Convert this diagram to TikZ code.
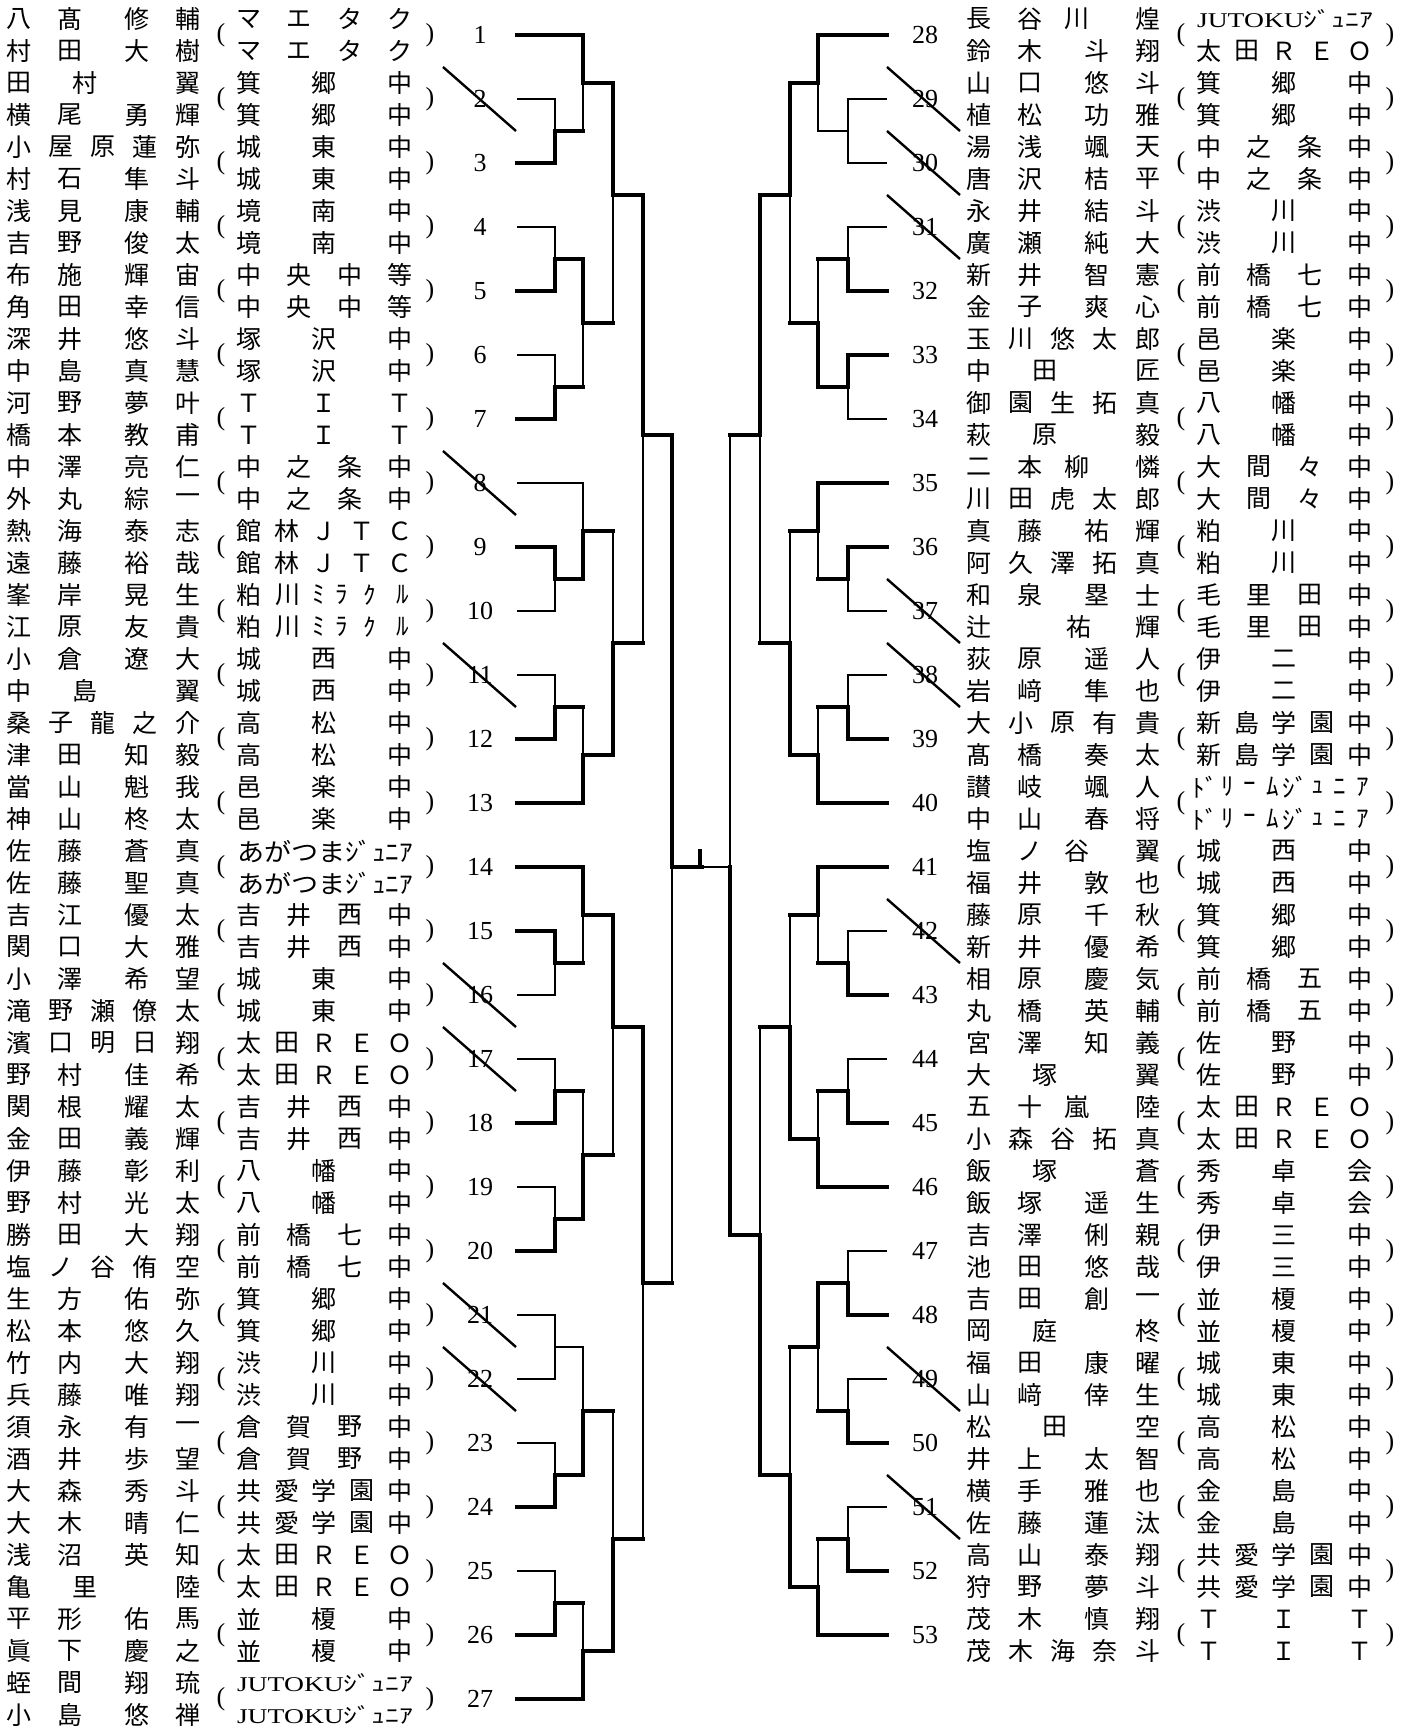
\documentclass[tikz,border=0pt]{standalone}
\usepackage{fontspec}
\usepackage{graphicx}
\newfontfamily\jp{Noto Sans CJK JP}
\newfontfamily\ser{Liberation Serif}
\tikzset{
 nm/.style={font=\jp\fontsize{25}{25}\selectfont, inner sep=0pt},
 num/.style={font=\ser\fontsize{26}{26}\selectfont, inner sep=0pt},
 pr/.style={font=\ser\fontsize{26}{26}\selectfont, inner sep=0pt},
 lose/.style={line width=1.5pt},
 win/.style={line width=4.5pt, line cap=rect, line join=miter},
 slash/.style={line width=2.4pt},
}
% names: x0, y, chars
\newcommand\nmA[6]{\node[nm] at ({#1+19},#2){#3};\node[nm] at ({#1+70},#2){#4};\node[nm] at ({#1+137},#2){#5};\node[nm] at ({#1+188},#2){#6};}
\newcommand\nmB[6]{\node[nm] at ({#1+19},#2){#3};\node[nm] at ({#1+70},#2){#4};\node[nm] at ({#1+117},#2){#5};\node[nm] at ({#1+188},#2){#6};}
\newcommand\nmC[5]{\node[nm] at ({#1+19},#2){#3};\node[nm] at ({#1+85},#2){#4};\node[nm] at ({#1+188},#2){#5};}
\newcommand\nmD[5]{\node[nm] at ({#1+19},#2){#3};\node[nm] at ({#1+119},#2){#4};\node[nm] at ({#1+188},#2){#5};}
\newcommand\nmF[5]{\node[nm] at ({#1+19},#2){#3};\node[nm] at ({#1+95},#2){#4};\node[nm] at ({#1+188},#2){#5};}
\newcommand\nmE[7]{\node[nm] at ({#1+19},#2){#3};\node[nm] at ({#1+61},#2){#4};\node[nm] at ({#1+103},#2){#5};\node[nm] at ({#1+145},#2){#6};\node[nm] at ({#1+188},#2){#7};}
% schools
\newcommand\scA[5]{\node[nm] at ({#1+249},#2){#3};\node[nm] at ({#1+324},#2){#4};\node[nm] at ({#1+400},#2){#5};}
\newcommand\scB[6]{\node[nm] at ({#1+249},#2){#3};\node[nm] at ({#1+299},#2){#4};\node[nm] at ({#1+350},#2){#5};\node[nm] at ({#1+400},#2){#6};}
\newcommand\scC[7]{\node[nm] at ({#1+249},#2){#3};\node[nm] at ({#1+287},#2){#4};\node[nm] at ({#1+324},#2){#5};\node[nm] at ({#1+362},#2){#6};\node[nm] at ({#1+400},#2){#7};}
\newcommand\scX[3]{\node[nm] at ({#1+325},#2){\resizebox{176pt}{\height}{#3}};}
\newcommand\jut{\fontsize{21}{21}\selectfont{\ser JUTOKU}ｼﾞｭﾆｱ}
\newcommand\aga{あがつまｼﾞｭﾆｱ}
\newcommand\kasu[2]{\node[nm] at ({#1+249},#2){粕};\node[nm] at ({#1+288},#2){川};\node[nm] at ({#1+319},#2){ﾐ};\node[nm] at ({#1+342},#2){ﾗ};\node[nm] at ({#1+370},#2){ｸ};\node[nm] at ({#1+403},#2){ﾙ};}
\newcommand\dream[2]{\node[nm] at ({#1+245},#2){ﾄﾞ};\node[nm] at ({#1+268},#2){ﾘ};\node[nm] at ({#1+290},#2){ｰ};\node[nm] at ({#1+313},#2){ﾑ};\node[nm] at ({#1+335},#2){ｼﾞ};\node[nm] at ({#1+358},#2){ｭ};\node[nm] at ({#1+380},#2){ﾆ};\node[nm] at ({#1+403},#2){ｱ};}
\newcommand\prn[2]{\node[pr] at ({#1+221},#2){(};\node[pr] at ({#1+430},#2){)};}
\begin{document}
\begin{tikzpicture}[x=1pt,y=-1pt]
\useasboundingbox (0,0) rectangle (1411,1733);
% ---------- numbers ----------
\foreach \k in {1,...,27} \node[num] (n\k) at (480,{35+64*(\k-1)}) {\k};
\foreach \k in {28,...,53} \node[num] (n\k) at (925,{35+64*(\k-28)}) {\k};
% ---------- left names ----------
\nmA{0}{19}{八}{髙}{修}{輔}\nmA{0}{51}{村}{田}{大}{樹}\scB{0}{19}{マ}{エ}{タ}{ク}\scB{0}{51}{マ}{エ}{タ}{ク}\prn{0}{35}
\nmC{0}{83}{田}{村}{翼}\nmA{0}{115}{横}{尾}{勇}{輝}\scA{0}{83}{箕}{郷}{中}\scA{0}{115}{箕}{郷}{中}\prn{0}{99}
\nmE{0}{147}{小}{屋}{原}{蓮}{弥}\nmA{0}{179}{村}{石}{隼}{斗}\scA{0}{147}{城}{東}{中}\scA{0}{179}{城}{東}{中}\prn{0}{163}
\nmA{0}{211}{浅}{見}{康}{輔}\nmA{0}{243}{吉}{野}{俊}{太}\scA{0}{211}{境}{南}{中}\scA{0}{243}{境}{南}{中}\prn{0}{227}
\nmA{0}{275}{布}{施}{輝}{宙}\nmA{0}{307}{角}{田}{幸}{信}\scB{0}{275}{中}{央}{中}{等}\scB{0}{307}{中}{央}{中}{等}\prn{0}{291}
\nmA{0}{339}{深}{井}{悠}{斗}\nmA{0}{371}{中}{島}{真}{慧}\scA{0}{339}{塚}{沢}{中}\scA{0}{371}{塚}{沢}{中}\prn{0}{355}
\nmA{0}{403}{河}{野}{夢}{叶}\nmA{0}{435}{橋}{本}{教}{甫}\scA{0}{403}{Ｔ}{Ｉ}{Ｔ}\scA{0}{435}{Ｔ}{Ｉ}{Ｔ}\prn{0}{419}
\nmA{0}{467}{中}{澤}{亮}{仁}\nmA{0}{499}{外}{丸}{綜}{一}\scB{0}{467}{中}{之}{条}{中}\scB{0}{499}{中}{之}{条}{中}\prn{0}{483}
\nmA{0}{531}{熱}{海}{泰}{志}\nmA{0}{563}{遠}{藤}{裕}{哉}\scC{0}{531}{館}{林}{Ｊ}{Ｔ}{Ｃ}\scC{0}{563}{館}{林}{Ｊ}{Ｔ}{Ｃ}\prn{0}{547}
\nmA{0}{595}{峯}{岸}{晃}{生}\nmA{0}{627}{江}{原}{友}{貴}\kasu{0}{595}\kasu{0}{627}\prn{0}{611}
\nmA{0}{659}{小}{倉}{遼}{大}\nmC{0}{691}{中}{島}{翼}\scA{0}{659}{城}{西}{中}\scA{0}{691}{城}{西}{中}\prn{0}{675}
\nmE{0}{723}{桑}{子}{龍}{之}{介}\nmA{0}{755}{津}{田}{知}{毅}\scA{0}{723}{高}{松}{中}\scA{0}{755}{高}{松}{中}\prn{0}{739}
\nmA{0}{787}{當}{山}{魁}{我}\nmA{0}{819}{神}{山}{柊}{太}\scA{0}{787}{邑}{楽}{中}\scA{0}{819}{邑}{楽}{中}\prn{0}{803}
\nmA{0}{851}{佐}{藤}{蒼}{真}\nmA{0}{883}{佐}{藤}{聖}{真}\scX{0}{851}{\aga}\scX{0}{883}{\aga}\prn{0}{867}
\nmA{0}{915}{吉}{江}{優}{太}\nmA{0}{947}{関}{口}{大}{雅}\scB{0}{915}{吉}{井}{西}{中}\scB{0}{947}{吉}{井}{西}{中}\prn{0}{931}
\nmA{0}{979}{小}{澤}{希}{望}\nmE{0}{1011}{滝}{野}{瀬}{僚}{太}\scA{0}{979}{城}{東}{中}\scA{0}{1011}{城}{東}{中}\prn{0}{995}
\nmE{0}{1043}{濱}{口}{明}{日}{翔}\nmA{0}{1075}{野}{村}{佳}{希}\scC{0}{1043}{太}{田}{Ｒ}{Ｅ}{Ｏ}\scC{0}{1075}{太}{田}{Ｒ}{Ｅ}{Ｏ}\prn{0}{1059}
\nmA{0}{1107}{関}{根}{耀}{太}\nmA{0}{1139}{金}{田}{義}{輝}\scB{0}{1107}{吉}{井}{西}{中}\scB{0}{1139}{吉}{井}{西}{中}\prn{0}{1123}
\nmA{0}{1171}{伊}{藤}{彰}{利}\nmA{0}{1203}{野}{村}{光}{太}\scA{0}{1171}{八}{幡}{中}\scA{0}{1203}{八}{幡}{中}\prn{0}{1187}
\nmA{0}{1235}{勝}{田}{大}{翔}\nmE{0}{1267}{塩}{ノ}{谷}{侑}{空}\scB{0}{1235}{前}{橋}{七}{中}\scB{0}{1267}{前}{橋}{七}{中}\prn{0}{1251}
\nmA{0}{1299}{生}{方}{佑}{弥}\nmA{0}{1331}{松}{本}{悠}{久}\scA{0}{1299}{箕}{郷}{中}\scA{0}{1331}{箕}{郷}{中}\prn{0}{1315}
\nmA{0}{1363}{竹}{内}{大}{翔}\nmA{0}{1395}{兵}{藤}{唯}{翔}\scA{0}{1363}{渋}{川}{中}\scA{0}{1395}{渋}{川}{中}\prn{0}{1379}
\nmA{0}{1427}{須}{永}{有}{一}\nmA{0}{1459}{酒}{井}{歩}{望}\scB{0}{1427}{倉}{賀}{野}{中}\scB{0}{1459}{倉}{賀}{野}{中}\prn{0}{1443}
\nmA{0}{1491}{大}{森}{秀}{斗}\nmA{0}{1523}{大}{木}{晴}{仁}\scC{0}{1491}{共}{愛}{学}{園}{中}\scC{0}{1523}{共}{愛}{学}{園}{中}\prn{0}{1507}
\nmA{0}{1555}{浅}{沼}{英}{知}\nmC{0}{1587}{亀}{里}{陸}\scC{0}{1555}{太}{田}{Ｒ}{Ｅ}{Ｏ}\scC{0}{1587}{太}{田}{Ｒ}{Ｅ}{Ｏ}\prn{0}{1571}
\nmA{0}{1619}{平}{形}{佑}{馬}\nmA{0}{1651}{眞}{下}{慶}{之}\scA{0}{1619}{並}{榎}{中}\scA{0}{1651}{並}{榎}{中}\prn{0}{1635}
\nmA{0}{1683}{蛭}{間}{翔}{琉}\nmA{0}{1715}{小}{島}{悠}{禅}\scX{0}{1683}{\jut}\scX{0}{1715}{\jut}\prn{0}{1699}
% ---------- right names ----------
\nmB{960}{19}{長}{谷}{川}{煌}\nmA{960}{51}{鈴}{木}{斗}{翔}\scX{960}{19}{\jut}\scC{960}{51}{太}{田}{Ｒ}{Ｅ}{Ｏ}\prn{960}{35}
\nmA{960}{83}{山}{口}{悠}{斗}\nmA{960}{115}{植}{松}{功}{雅}\scA{960}{83}{箕}{郷}{中}\scA{960}{115}{箕}{郷}{中}\prn{960}{99}
\nmA{960}{147}{湯}{浅}{颯}{天}\nmA{960}{179}{唐}{沢}{桔}{平}\scB{960}{147}{中}{之}{条}{中}\scB{960}{179}{中}{之}{条}{中}\prn{960}{163}
\nmA{960}{211}{永}{井}{結}{斗}\nmA{960}{243}{廣}{瀬}{純}{大}\scA{960}{211}{渋}{川}{中}\scA{960}{243}{渋}{川}{中}\prn{960}{227}
\nmA{960}{275}{新}{井}{智}{憲}\nmA{960}{307}{金}{子}{爽}{心}\scB{960}{275}{前}{橋}{七}{中}\scB{960}{307}{前}{橋}{七}{中}\prn{960}{291}
\nmE{960}{339}{玉}{川}{悠}{太}{郎}\nmC{960}{371}{中}{田}{匠}\scA{960}{339}{邑}{楽}{中}\scA{960}{371}{邑}{楽}{中}\prn{960}{355}
\nmE{960}{403}{御}{園}{生}{拓}{真}\nmC{960}{435}{萩}{原}{毅}\scA{960}{403}{八}{幡}{中}\scA{960}{435}{八}{幡}{中}\prn{960}{419}
\nmB{960}{467}{二}{本}{柳}{憐}\nmE{960}{499}{川}{田}{虎}{太}{郎}\scB{960}{467}{大}{間}{々}{中}\scB{960}{499}{大}{間}{々}{中}\prn{960}{483}
\nmA{960}{531}{真}{藤}{祐}{輝}\nmE{960}{563}{阿}{久}{澤}{拓}{真}\scA{960}{531}{粕}{川}{中}\scA{960}{563}{粕}{川}{中}\prn{960}{547}
\nmA{960}{595}{和}{泉}{塁}{士}\nmD{960}{627}{辻}{祐}{輝}\scB{960}{595}{毛}{里}{田}{中}\scB{960}{627}{毛}{里}{田}{中}\prn{960}{611}
\nmA{960}{659}{荻}{原}{遥}{人}\nmA{960}{691}{岩}{﨑}{隼}{也}\scA{960}{659}{伊}{二}{中}\scA{960}{691}{伊}{二}{中}\prn{960}{675}
\nmE{960}{723}{大}{小}{原}{有}{貴}\nmA{960}{755}{髙}{橋}{奏}{太}\scC{960}{723}{新}{島}{学}{園}{中}\scC{960}{755}{新}{島}{学}{園}{中}\prn{960}{739}
\nmA{960}{787}{讃}{岐}{颯}{人}\nmA{960}{819}{中}{山}{春}{将}\dream{960}{787}\dream{960}{819}\prn{960}{803}
\nmB{960}{851}{塩}{ノ}{谷}{翼}\nmA{960}{883}{福}{井}{敦}{也}\scA{960}{851}{城}{西}{中}\scA{960}{883}{城}{西}{中}\prn{960}{867}
\nmA{960}{915}{藤}{原}{千}{秋}\nmA{960}{947}{新}{井}{優}{希}\scA{960}{915}{箕}{郷}{中}\scA{960}{947}{箕}{郷}{中}\prn{960}{931}
\nmA{960}{979}{相}{原}{慶}{気}\nmA{960}{1011}{丸}{橋}{英}{輔}\scB{960}{979}{前}{橋}{五}{中}\scB{960}{1011}{前}{橋}{五}{中}\prn{960}{995}
\nmA{960}{1043}{宮}{澤}{知}{義}\nmC{960}{1075}{大}{塚}{翼}\scA{960}{1043}{佐}{野}{中}\scA{960}{1075}{佐}{野}{中}\prn{960}{1059}
\nmB{960}{1107}{五}{十}{嵐}{陸}\nmE{960}{1139}{小}{森}{谷}{拓}{真}\scC{960}{1107}{太}{田}{Ｒ}{Ｅ}{Ｏ}\scC{960}{1139}{太}{田}{Ｒ}{Ｅ}{Ｏ}\prn{960}{1123}
\nmC{960}{1171}{飯}{塚}{蒼}\nmA{960}{1203}{飯}{塚}{遥}{生}\scA{960}{1171}{秀}{卓}{会}\scA{960}{1203}{秀}{卓}{会}\prn{960}{1187}
\nmA{960}{1235}{吉}{澤}{俐}{親}\nmA{960}{1267}{池}{田}{悠}{哉}\scA{960}{1235}{伊}{三}{中}\scA{960}{1267}{伊}{三}{中}\prn{960}{1251}
\nmA{960}{1299}{吉}{田}{創}{一}\nmC{960}{1331}{岡}{庭}{柊}\scA{960}{1299}{並}{榎}{中}\scA{960}{1331}{並}{榎}{中}\prn{960}{1315}
\nmA{960}{1363}{福}{田}{康}{曜}\nmA{960}{1395}{山}{﨑}{倖}{生}\scA{960}{1363}{城}{東}{中}\scA{960}{1395}{城}{東}{中}\prn{960}{1379}
\nmF{960}{1427}{松}{田}{空}\nmA{960}{1459}{井}{上}{太}{智}\scA{960}{1427}{高}{松}{中}\scA{960}{1459}{高}{松}{中}\prn{960}{1443}
\nmA{960}{1491}{横}{手}{雅}{也}\nmA{960}{1523}{佐}{藤}{蓮}{汰}\scA{960}{1491}{金}{島}{中}\scA{960}{1523}{金}{島}{中}\prn{960}{1507}
\nmA{960}{1555}{高}{山}{泰}{翔}\nmA{960}{1587}{狩}{野}{夢}{斗}\scC{960}{1555}{共}{愛}{学}{園}{中}\scC{960}{1587}{共}{愛}{学}{園}{中}\prn{960}{1571}
\nmA{960}{1619}{茂}{木}{慎}{翔}\nmE{960}{1651}{茂}{木}{海}{奈}{斗}\scA{960}{1619}{Ｔ}{Ｉ}{Ｔ}\scA{960}{1651}{Ｔ}{Ｉ}{Ｔ}\prn{960}{1635}
% ---------- left bracket: losers ----------
\draw[lose] (517,99)--(555,99)--(555,131);
\draw[lose] (583,131)--(583,83);
\draw[lose] (517,227)--(555,227)--(555,259);
\draw[lose] (517,355)--(555,355)--(555,387);
\draw[lose] (583,387)--(583,323);
\draw[lose] (613,195)--(613,323);
\draw[lose] (517,483)--(583,483)--(583,531);
\draw[lose] (517,611)--(555,611)--(555,579);
\draw[lose] (613,531)--(613,643);
\draw[lose] (517,675)--(555,675)--(555,707);
\draw[lose] (583,707)--(583,755);
\draw[lose] (643,643)--(643,435);
\draw[lose] (517,995)--(555,995)--(555,963);
\draw[lose] (583,963)--(583,915);
\draw[lose] (517,1059)--(555,1059)--(555,1091);
\draw[lose] (583,1091)--(583,1155);
\draw[lose] (517,1187)--(555,1187)--(555,1219);
\draw[lose] (613,1155)--(613,1027);
\draw[lose] (672,1283)--(672,867);
\draw[lose] (517,1315)--(555,1315)--(555,1347)--(583,1347)--(583,1411);
\draw[lose] (517,1379)--(555,1379)--(555,1347);
\draw[lose] (517,1443)--(555,1443)--(555,1475);
\draw[lose] (613,1411)--(613,1539);
\draw[lose] (517,1571)--(555,1571)--(555,1603);
\draw[lose] (583,1603)--(583,1651);
\draw[lose] (643,1539)--(643,1283);
\draw[lose] (702,867)--(730,867);
% ---------- left bracket: winners ----------
\draw[win] (517,35)--(583,35)--(583,83)--(613,83)--(613,195)--(643,195)--(643,435)--(672,435)--(672,867)--(702,867);
\draw[win] (700,851)--(700,867);
\draw[win] (517,163)--(555,163)--(555,131)--(583,131);
\draw[win] (517,291)--(555,291)--(555,259)--(583,259)--(583,323)--(613,323);
\draw[win] (517,419)--(555,419)--(555,387)--(583,387);
\draw[win] (517,547)--(555,547)--(555,579)--(583,579)--(583,531)--(613,531);
\draw[win] (517,739)--(555,739)--(555,707)--(583,707);
\draw[win] (517,803)--(583,803)--(583,755)--(613,755)--(613,643)--(643,643);
\draw[win] (517,867)--(583,867)--(583,915)--(613,915)--(613,1027)--(643,1027)--(643,1283)--(672,1283);
\draw[win] (517,931)--(555,931)--(555,963)--(583,963);
\draw[win] (517,1123)--(555,1123)--(555,1091)--(583,1091);
\draw[win] (517,1251)--(555,1251)--(555,1219)--(583,1219)--(583,1155)--(613,1155);
\draw[win] (517,1507)--(555,1507)--(555,1475)--(583,1475)--(583,1411)--(613,1411);
\draw[win] (517,1635)--(555,1635)--(555,1603)--(583,1603);
\draw[win] (517,1699)--(583,1699)--(583,1651)--(613,1651)--(613,1539)--(643,1539);
% ---------- right bracket: losers ----------
\draw[lose] (887,99)--(848,99)--(848,163)--(887,163);
\draw[lose] (848,131)--(818,131)--(818,83);
\draw[lose] (887,227)--(848,227)--(848,259);
\draw[lose] (818,259)--(818,323);
\draw[lose] (887,419)--(848,419)--(848,387);
\draw[lose] (790,195)--(790,323);
\draw[lose] (730,435)--(730,867);
\draw[lose] (760,435)--(760,643);
\draw[lose] (887,611)--(848,611)--(848,579);
\draw[lose] (818,579)--(818,531);
\draw[lose] (790,531)--(790,643);
\draw[lose] (887,675)--(848,675)--(848,707);
\draw[lose] (818,707)--(818,755);
\draw[lose] (887,931)--(848,931)--(848,963);
\draw[lose] (818,963)--(818,915);
\draw[lose] (790,915)--(790,1027);
\draw[lose] (887,1059)--(848,1059)--(848,1091);
\draw[lose] (818,1091)--(818,1139);
\draw[lose] (760,1027)--(760,1235);
\draw[lose] (887,1251)--(848,1251)--(848,1283);
\draw[lose] (887,1379)--(848,1379)--(848,1411);
\draw[lose] (818,1411)--(818,1347);
\draw[lose] (790,1347)--(790,1475);
\draw[lose] (887,1507)--(848,1507)--(848,1539);
\draw[lose] (818,1539)--(818,1587);
% ---------- right bracket: winners ----------
\draw[win] (887,35)--(818,35)--(818,83)--(790,83)--(790,195)--(760,195)--(760,435)--(730,435);
\draw[win] (887,291)--(848,291)--(848,259)--(818,259);
\draw[win] (887,355)--(848,355)--(848,387)--(818,387)--(818,323)--(790,323);
\draw[win] (887,483)--(818,483)--(818,531)--(790,531);
\draw[win] (887,547)--(848,547)--(848,579)--(818,579);
\draw[win] (887,739)--(848,739)--(848,707)--(818,707);
\draw[win] (887,803)--(818,803)--(818,755)--(790,755)--(790,643)--(760,643);
\draw[win] (887,867)--(818,867)--(818,915)--(790,915);
\draw[win] (887,995)--(848,995)--(848,963)--(818,963);
\draw[win] (887,1123)--(848,1123)--(848,1091)--(818,1091);
\draw[win] (887,1187)--(818,1187)--(818,1139)--(790,1139)--(790,1027)--(760,1027);
\draw[win] (887,1315)--(848,1315)--(848,1283)--(818,1283)--(818,1347)--(790,1347);
\draw[win] (887,1443)--(848,1443)--(848,1411)--(818,1411);
\draw[win] (887,1571)--(848,1571)--(848,1539)--(818,1539);
\draw[win] (887,1635)--(818,1635)--(818,1587)--(790,1587)--(790,1475)--(760,1475)--(760,1235)--(730,1235)--(730,867);
% ---------- walkover slashes ----------
\foreach \k in {2,8,11,16,17,21,22} \draw[slash] (443,{3+64*(\k-1)}) -- (516,{67+64*(\k-1)});
\foreach \k in {29,30,31,37,38,42,49,51} \draw[slash] (887,{3+64*(\k-28)}) -- (960,{67+64*(\k-28)});
\end{tikzpicture}
\end{document}
